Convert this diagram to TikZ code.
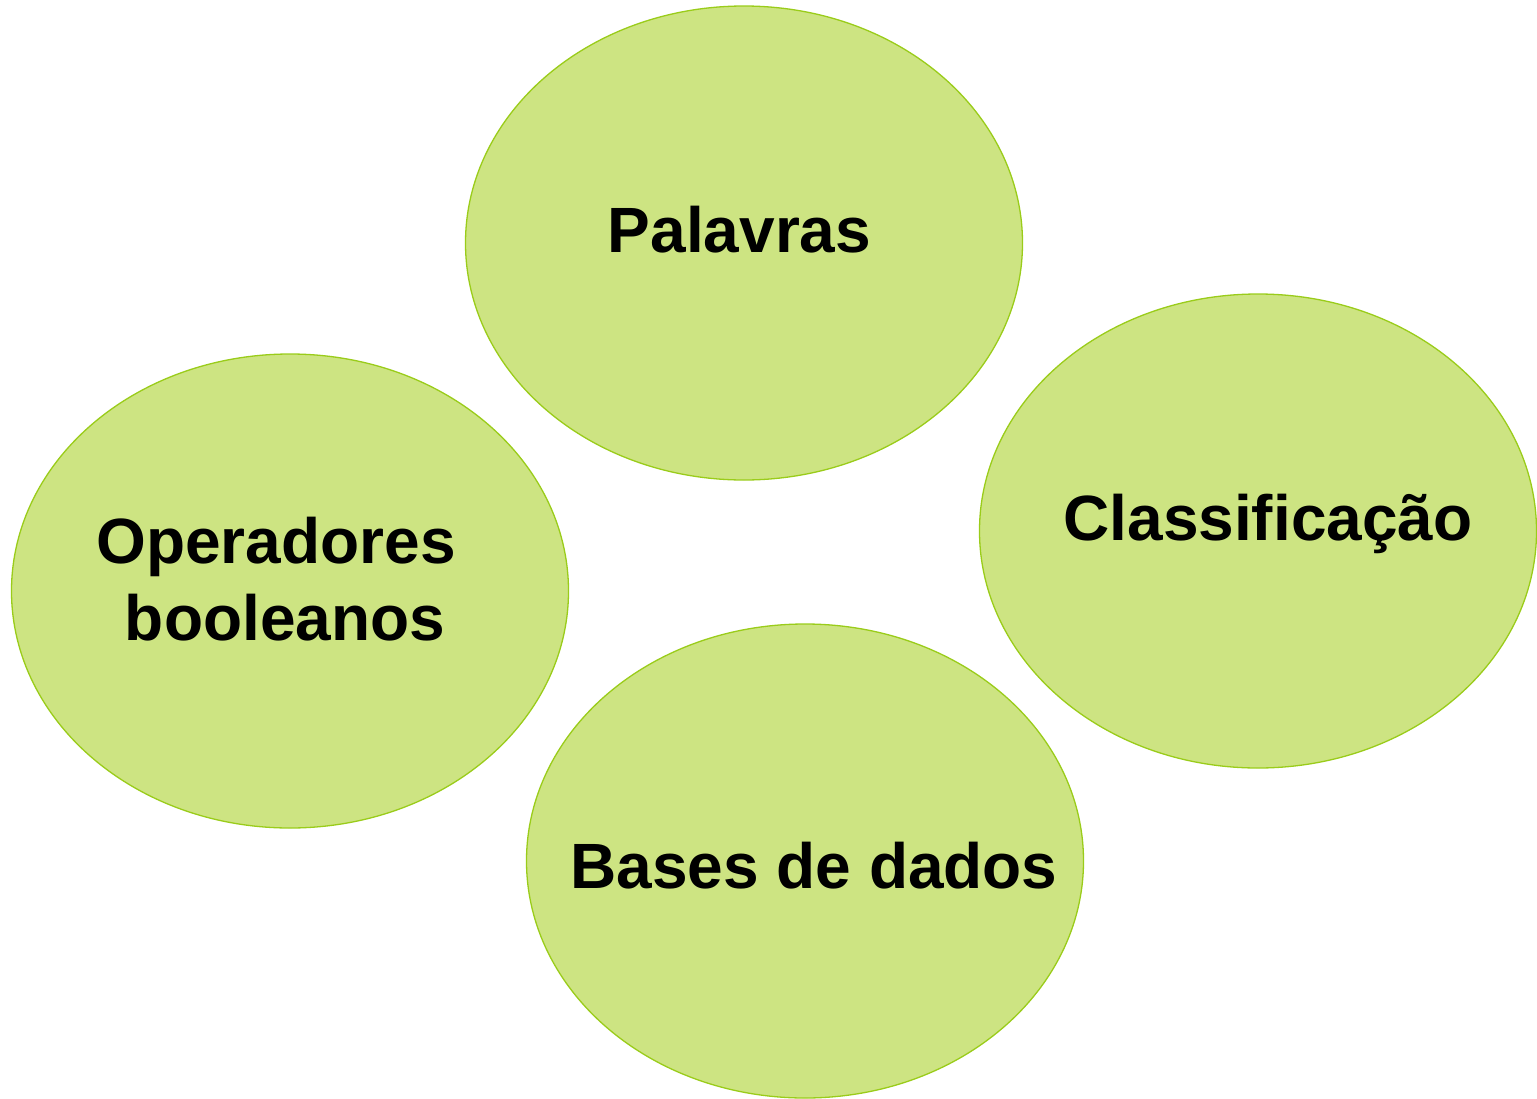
\documentclass[tikz,border=0pt]{standalone}
\usepackage{fontspec}
\setmainfont{Liberation Sans}
\usetikzlibrary{shapes.geometric}
\definecolor{fillg}{HTML}{CDE482}
\definecolor{lineg}{HTML}{9ACC1A}
\tikzset{
  blob/.style={ellipse, draw=lineg, fill=fillg, line width=1.3pt, minimum width=557pt, minimum height=474pt, inner sep=0pt},
  lbl/.style={font=\fontsize{64}{77}\selectfont\bfseries, inner sep=0pt, text=black}
}
\begin{document}
\begin{tikzpicture}[x=1pt,y=1pt]
\useasboundingbox (0,0) rectangle (1537,-1098);
\node[blob] (e1) at (744,-243) {};
\node[blob] (e2) at (1258,-531) {};
\node[blob] (e3) at (290,-591) {};
\node[blob] (e4) at (805,-861) {};
\node[lbl, anchor=base] (t1) at (739.5,-252) {Palavras};
\node[lbl, anchor=base] (t2) at (1268,-540) {Classificação};
\node[lbl, anchor=base] (t3a) at (276,-563) {Operadores};
\node[lbl, anchor=base] (t3b) at (285,-640) {booleanos};
\node[lbl, anchor=base] (t4) at (814,-888) {Bases de dados};
\end{tikzpicture}
\end{document}
